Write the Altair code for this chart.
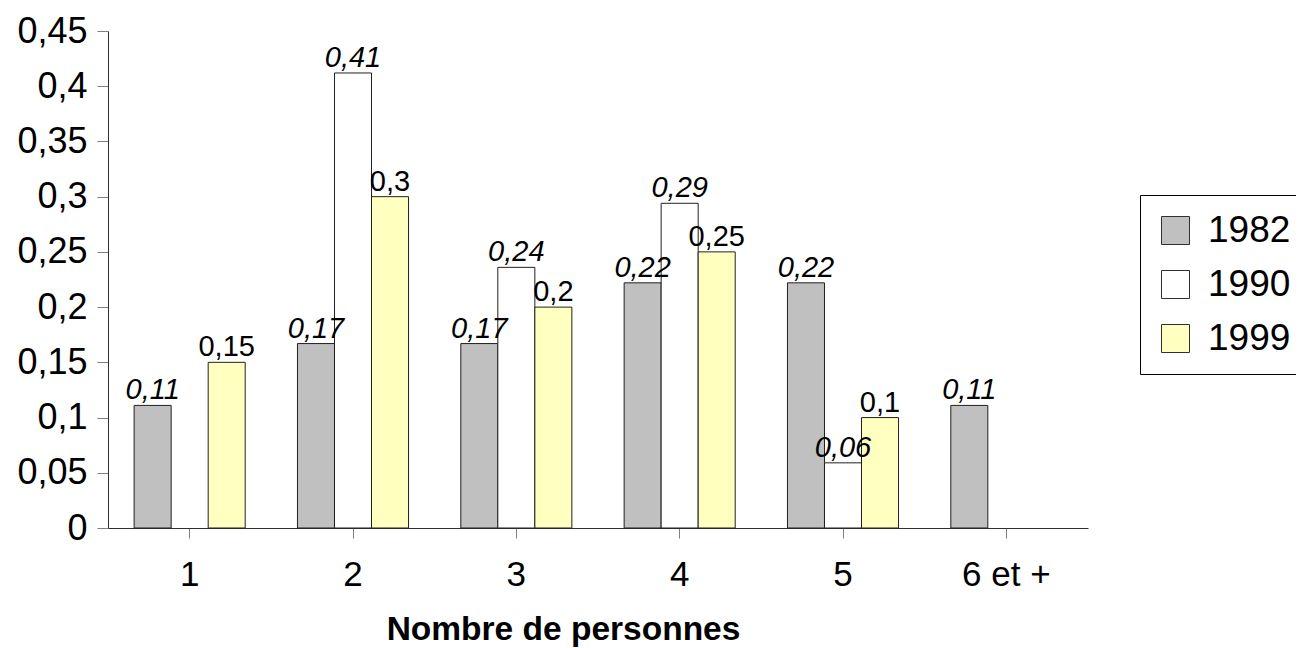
import altair as alt
import pandas as pd

categories = ["1", "2", "3", "4", "5", "6 et +"]
years = ["1982", "1990", "1999"]
v1982 = [0.111, 0.167, 0.167, 0.222, 0.222, 0.111]
v1990 = [None, 0.412, 0.236, 0.294, 0.059, None]
v1999 = [0.15, 0.30, 0.20, 0.25, 0.10, None]
colors = ["#C0C0C0", "#FFFFFF", "#FFFFC0"]
y_ticks = [0, 0.05, 0.1, 0.15, 0.2, 0.25, 0.3, 0.35, 0.4, 0.45]

rows = []
for year, vals in zip(years, [v1982, v1990, v1999]):
    for c, v in zip(categories, vals):
        if v is not None:
            rows.append({"cat": c, "year": year, "value": v})
df = pd.DataFrame(rows)

FONT = "Arial, Liberation Sans, sans-serif"
fmt = "replace(format(datum.value, '.2~f'), '.', ',')"

x_enc = alt.X(
    "cat:N",
    sort=categories,
    scale=alt.Scale(domain=categories, paddingInner=0.32, paddingOuter=0.16),
    axis=alt.Axis(
        title="Nombre de personnes",
        labelAngle=0,
        labelFontSize=35,
        labelPadding=19,
        tickSize=10,
        titleFontSize=33.5,
        titleFontWeight="bold",
        titlePadding=21,
        titleX=455,
        titleAlign="center",
    ),
)
xoff_enc = alt.XOffset("year:N", sort=years, scale=alt.Scale(domain=years, paddingInner=0, paddingOuter=0))
y_enc = alt.Y(
    "value:Q",
    scale=alt.Scale(domain=[0, 0.45], nice=False, zero=True),
    axis=alt.Axis(
        title=None,
        values=y_ticks,
        labelExpr=fmt,
        labelFontSize=36,
        labelPadding=10,
        tickSize=11,
        grid=False,
    ),
)

base = alt.Chart(df)

bars = base.mark_bar(stroke="#202020", strokeWidth=1).encode(
    x=x_enc,
    xOffset=xoff_enc,
    y=y_enc,
    fill=alt.Fill(
        "year:N",
        sort=years,
        scale=alt.Scale(domain=years, range=colors),
        legend=alt.Legend(
            title=None,
            orient="none",
            legendX=1032,
            legendY=164,
            symbolType="square",
            symbolSize=784,
            symbolStrokeColor="#303030",
            symbolStrokeWidth=1,
            labelFontSize=37,
            labelOffset=14,
            rowPadding=16,
            padding=17,
            strokeColor="black",
            fillColor="white",
        ),
    ),
)

text_it = base.transform_filter("datum.year != '1999'").transform_calculate(
    label=fmt
).mark_text(fontSize=29, fontStyle="italic", baseline="alphabetic", dy=-6, font=FONT).encode(
    x=alt.X("cat:N", sort=categories),
    xOffset=alt.XOffset("year:N", sort=years),
    y=alt.Y("value:Q"),
    text="label:N",
)

text_norm = base.transform_filter("datum.year == '1999'").transform_calculate(
    label=fmt
).mark_text(fontSize=29, baseline="alphabetic", dy=-6, font=FONT).encode(
    x=alt.X("cat:N", sort=categories),
    xOffset=alt.XOffset("year:N", sort=years),
    y=alt.Y("value:Q"),
    text="label:N",
)

chart = (
    alt.layer(bars, text_it, text_norm)
    .properties(
        width=980,
        height=497,
        autosize=alt.AutoSizeParams(type="none"),
        padding={"left": 100, "top": 23, "right": 208, "bottom": 120},
        background="white",
    )
    .configure_view(stroke=None)
    .configure_axis(
        labelFont=FONT,
        titleFont=FONT,
        labelColor="black",
        titleColor="black",
        domainColor="#303030",
        tickColor="#808080",
        domainWidth=1,
        tickWidth=1,
    )
    .configure_legend(labelFont=FONT, labelColor="black")
    .configure_text(color="black")
)

chart.save("out.html", embed_options={"renderer": "svg", "actions": False})
